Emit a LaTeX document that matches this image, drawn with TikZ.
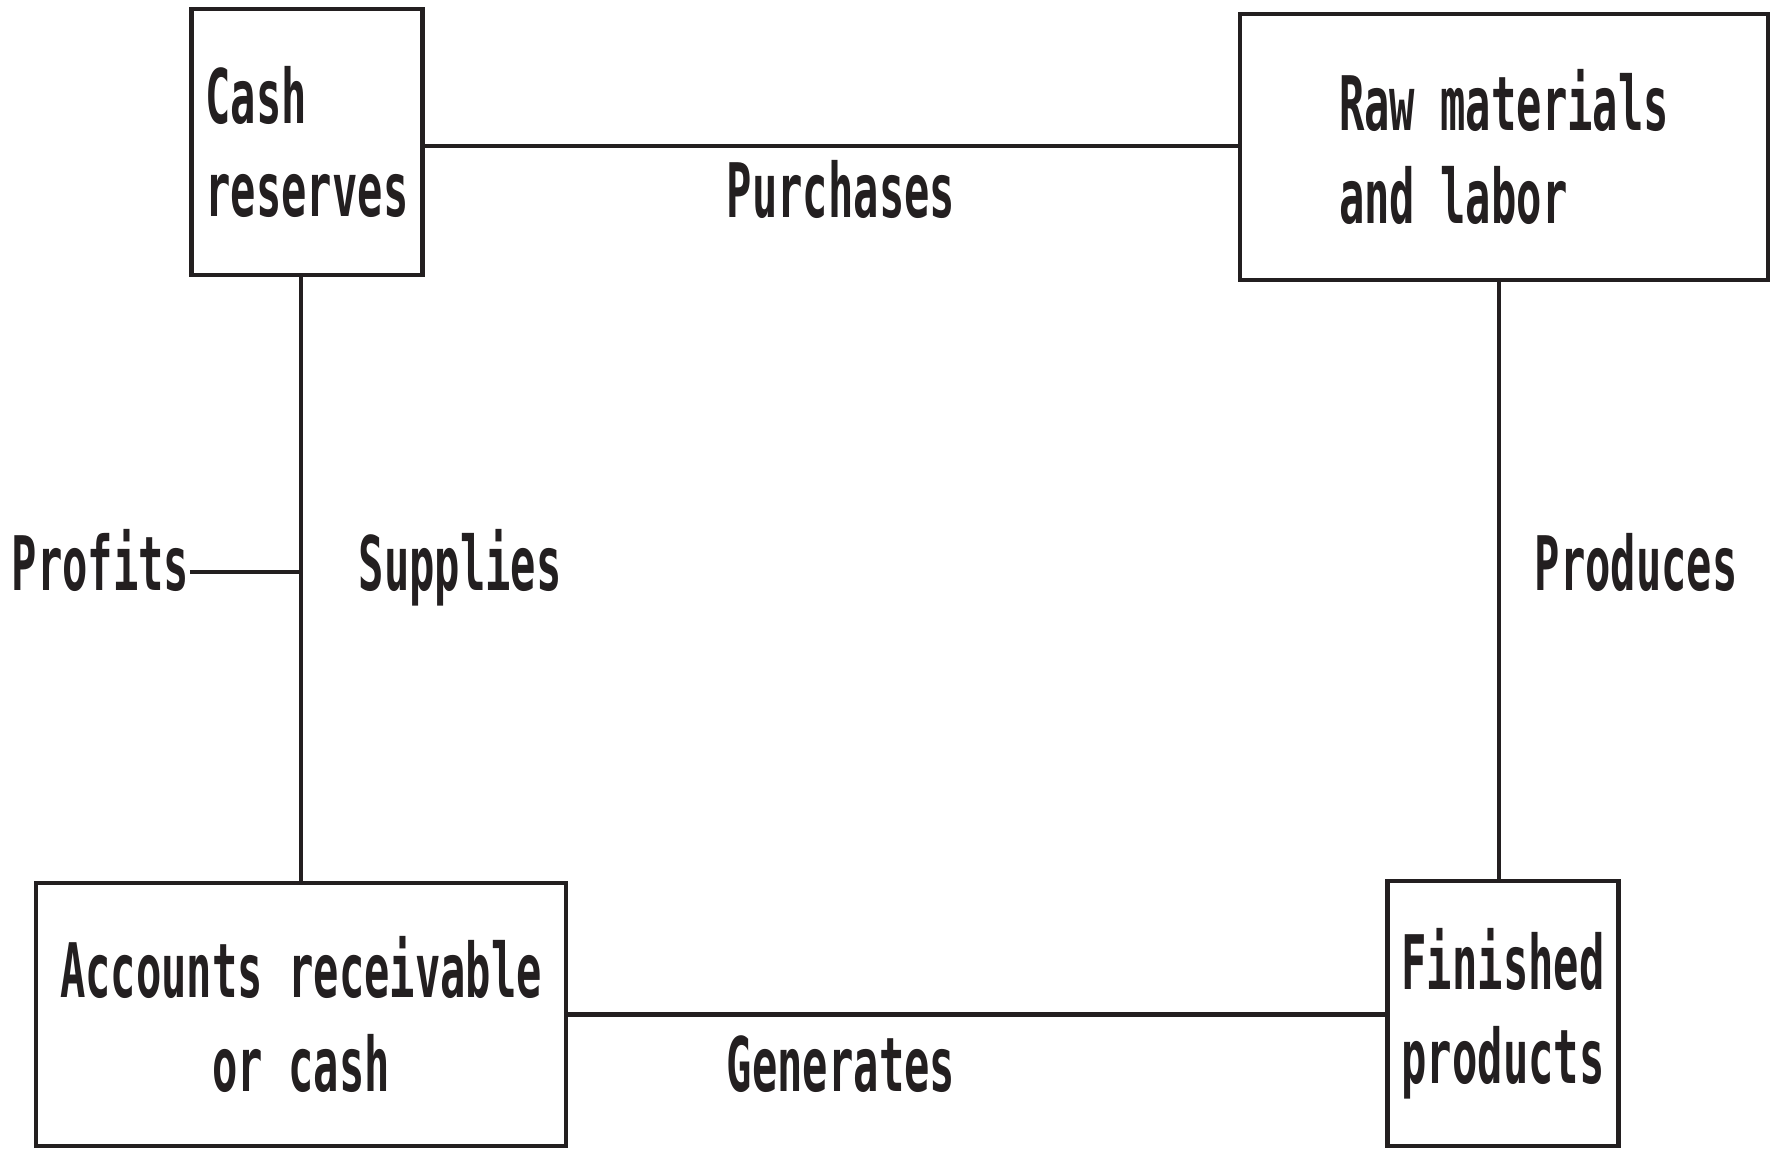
\documentclass[tikz,border=0pt]{standalone}
\usepackage{fontspec}
\usepackage{tikz}
\usetikzlibrary{positioning,calc}
\newfontfamily\diagfont{DejaVu Sans Mono}[FakeStretch=0.56]
\definecolor{ink}{RGB}{35,31,32}

\begin{document}
\begin{tikzpicture}[
  font=\diagfont\bfseries\fontsize{21.4}{26.7}\selectfont,
  every node/.style={text=ink},
  stage/.style={rectangle, draw=ink, line width=1.4pt, fill=white,
                inner sep=4pt, align=left},
  lbl/.style={inner sep=0pt},
  link/.style={draw=ink, line width=1.4pt},
]
\useasboundingbox (0,0) rectangle (17.75,11.49);

% ============================================================
% FOUR STAGES OF THE CYCLE
% ============================================================
\node[stage, minimum width=2.30cm, minimum height=2.66cm] (cash) at (3.07,10.07)
  {Cash\\reserves};
\node[stage, minimum width=5.28cm, minimum height=2.66cm] (raw) at (15.04,10.02)
  {Raw materials\\and labor};
\node[stage, align=center, minimum width=5.30cm, minimum height=2.63cm] (acct) at (3.01,1.345)
  {Accounts receivable\\or cash};
\node[stage, minimum width=2.28cm, minimum height=2.65cm] (fin) at (15.03,1.355)
  {Finished\\products};

% ============================================================
% CONNECTORS AND THEIR LABELS
% ============================================================
\draw[link] ([yshift=-0.04cm]cash.east) -- ([yshift=-0.04cm]cash.east -| raw.west);
\node[lbl, anchor=base] (purch) at (8.41,9.31) {Purchases};

\draw[link] ([xshift=-0.04cm]fin.north) -- ([xshift=-0.04cm]fin.north |- raw.south);
\node[lbl, anchor=base west] (prod) at (15.34,5.58) {Produces};

\draw[link] (acct.east) -- (acct.east -| fin.west);
\node[lbl, anchor=base] (gen) at (8.41,0.57) {Generates};

\draw[link] (acct.north) -- (acct.north |- cash.south);
\node[lbl, anchor=base west] (supp) at (3.58,5.58) {Supplies};

% profits branch off the supplies line
\coordinate (tee) at (3.01,5.77);
\node[lbl, anchor=base west] (profits) at (0.11,5.58) {Profits};
\draw[link] (profits.east |- tee) -- (tee);

\end{tikzpicture}
\end{document}
